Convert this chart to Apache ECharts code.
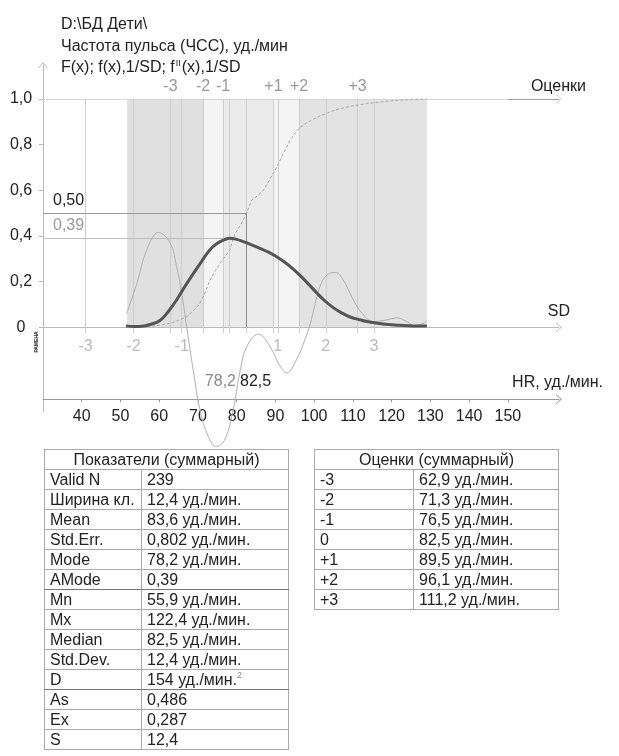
<!DOCTYPE html>
<html><head><meta charset="utf-8">
<script src="https://cdn.jsdelivr.net/npm/echarts@6/dist/echarts.min.js"></script>
<style>
html,body{margin:0;padding:0;background:#fff;}
#wrap{position:relative;width:619px;height:756px;overflow:hidden;background:#fff;}
#chart{position:absolute;left:0;top:0;width:619px;height:756px;}
table.t{position:absolute;border-collapse:collapse;table-layout:fixed;font-family:"Liberation Sans",Arial,sans-serif;font-size:16px;color:#222;}
table.t td{border:1px solid #aaa;padding:0 0 0 5px;height:19px;line-height:19px;white-space:nowrap;overflow:hidden;}
table.t td.h{text-align:center;padding:0;}
table.t tr.dk td{border-bottom:1px solid #777;}
table.t sup{font-size:9px;color:#888;vertical-align:top;line-height:10px;}
</style></head>
<body><div id="wrap"><div id="chart"></div></div>
<script>
// ---------- data ----------
const titleLines = ['D:\\БД Дети\\', 'Частота пульса (ЧСС), уд./мин'];
const hrTicks = [40,50,60,70,80,90,100,110,120,130,140,150];
const yTicks = [0,0.2,0.4,0.6,0.8,1.0];
const sdTicks = [-3,-2,-1,0,1,2,3];
const estLabels = ['-3','-2','-1','0','+1','+2','+3'];
const estValues = [62.9,71.3,76.5,82.5,89.5,96.1,111.2];
const bandEdges = [51.7,71.3,76.5,89.5,96.1,129.1];
const bandColors = ['#e0e0e0','#f4f4f4','#ebebeb','#f4f4f4','#e3e3e3'];
const modeHR = 78.2, modeA = 0.39, medianHR = 82.5, medianF = 0.50, sdHR = 12.4;
// F(x)
const cdfData = [[51.7,0.0],[54.5,0.001],[57.6,0.004],[60.2,0.009],[62.8,0.017],[65.0,0.03],[67.1,0.046],[69.0,0.075],[70.5,0.105],[71.8,0.15],[73.1,0.207],[74.4,0.245],[75.7,0.28],[77.0,0.31],[78.3,0.34],[79.1,0.39],[79.6,0.41],[80.7,0.44],[81.7,0.47],[82.5,0.50],[83.9,0.557],[85.3,0.575],[86.9,0.60],[88.6,0.65],[90.3,0.70],[92.0,0.76],[93.8,0.82],[95.0,0.85],[96.4,0.877],[98.5,0.9],[100.7,0.92],[103.5,0.94],[106.7,0.958],[110.0,0.97],[113.6,0.98],[118.0,0.989],[122.2,0.995],[126.0,0.998],[129.1,1.0]];
// f(x)
const densityData = [[51.4,0.006],[53.5,0.003],[55.5,0.004],[57.6,0.012],[60.2,0.03],[62.3,0.068],[64.5,0.12],[66.6,0.178],[68.8,0.235],[71.0,0.29],[73.1,0.34],[75.0,0.368],[76.6,0.382],[78.3,0.39],[80.0,0.385],[81.7,0.375],[84.0,0.36],[86.0,0.346],[88.2,0.329],[90.3,0.309],[92.5,0.284],[94.6,0.255],[96.4,0.226],[98.6,0.188],[100.7,0.15],[102.8,0.115],[105.0,0.085],[107.2,0.062],[109.3,0.045],[111.5,0.034],[113.6,0.025],[117.8,0.014],[122.2,0.009],[125.5,0.006],[129.1,0.006]];
// f''(x)
const d2Data = [[51.6,0.06],[54.2,0.19],[56.8,0.34],[59.8,0.415],[62.8,0.37],[64.5,0.265],[65.8,0.15],[67.1,0.0],[68.8,-0.19],[70.5,-0.36],[72.7,-0.48],[74.8,-0.523],[77.0,-0.49],[79.1,-0.36],[80.9,-0.19],[82.6,-0.085],[85.6,-0.03],[88.6,-0.085],[91.2,-0.17],[92.9,-0.2],[95.5,-0.14],[97.6,-0.055],[98.9,0.01],[101.5,0.178],[103.3,0.229],[105.4,0.24],[107.5,0.207],[110.1,0.12],[112.7,0.054],[115.3,0.025],[118.7,0.032],[121.3,0.041],[123.9,0.025],[126.0,0.006],[128.1,0.017],[129.1,0.027]];
const statsRows = [['Valid N','239'],['Ширина кл.','12,4 уд./мин.'],['Mean','83,6 уд./мин.'],['Std.Err.','0,802 уд./мин.'],['Mode','78,2 уд./мин.'],['AMode','0,39'],['Mn','55,9 уд./мин.'],['Mx','122,4 уд./мин.'],['Median','82,5 уд./мин.'],['Std.Dev.','12,4 уд./мин.'],['D','154 уд./мин.<sup>2</sup>'],['As','0,486'],['Ex','0,287'],['S','12,4']];
const estRows = [['-3','62,9 уд./мин.'],['-2','71,3 уд./мин.'],['-1','76,5 уд./мин.'],['0','82,5 уд./мин.'],['+1','89,5 уд./мин.'],['+2','96,1 уд./мин.'],['+3','111,2 уд./мин.']];

// ---------- tables ----------
function makeTable(title, rows, left, top, w, c1, darkAfter){
  let h = '<table class="t" style="left:'+left+'px;top:'+top+'px;width:'+w+'px"><colgroup><col style="width:'+c1+'px"><col></colgroup>';
  h += '<tr><td class="h" colspan="2">'+title+'</td></tr>';
  rows.forEach(r=>{ h += '<tr'+(darkAfter.indexOf(r[0])>=0?' class="dk"':'')+'><td>'+r[0]+'</td><td>'+r[1]+'</td></tr>'; });
  return h + '</table>';
}
document.getElementById('wrap').insertAdjacentHTML('beforeend',
  makeTable('Показатели (суммарный)', statsRows, 44, 449, 245, 97, ['AMode','D']) +
  makeTable('Оценки (суммарный)', estRows, 314, 449, 245, 99, []));

// ---------- chart ----------
const FF = '"Liberation Sans", Arial, sans-serif';
const hrMin = 30, hrMax = 163.2, yMin = -0.37, yMax = 1.149;
const gridBox = {left:43, right:60, top:65, bottom:344.3};
const gridH = 756 - gridBox.top - gridBox.bottom;
const zeroOffset = -(gridH * (0 - yMin) / (yMax - yMin));   // bring an axis up to y = 0
const oneOffset = -(gridH * (yMax - 1) / (yMax - yMin));    // bring a top axis down to y = 1
const chev = 'path://M0,6 L5,0 L10,6 L9,6 L5,1.3 L1,6 Z';
const chart = echarts.init(document.getElementById('chart'), null, {renderer:'canvas'});

const bandAreas = [];
for (let i=0;i<bandColors.length;i++){
  bandAreas.push([{xAxis:bandEdges[i], yAxis:0, itemStyle:{color:bandColors[i]}},{xAxis:bandEdges[i+1], yAxis:1}]);
}
const lightLine = {color:'#cdcdcd', width:1, type:'solid'};
const estLines = estValues.map(v=>[{coord:[v,-0.025], lineStyle:lightLine},{coord:[v,1]}]);
const sdLines = sdTicks.map(v=>[{coord:[v,-0.025], lineStyle:lightLine},{coord:[v,1]}]);
const refLines = [
  [{coord:[hrMin,medianF], lineStyle:{color:'#9a9a9a',width:1,type:'solid'}},{coord:[medianHR,medianF]}],
  [{coord:[medianHR,medianF], lineStyle:{color:'#8a8a8a',width:1,type:'solid'}},{coord:[medianHR,0]}],
  [{coord:[hrMin,modeA], lineStyle:{color:'#bdbdbd',width:1,type:'solid'}},{coord:[modeHR,modeA]}],
  [{coord:[150,1], lineStyle:{color:'#a0a0a0',width:1,type:'solid'}},{coord:[hrMax,1]}]
];

function txt(text, x, y, o){
  o = o || {};
  return {type:'text', x:x, y:y, z:50, silent:true, style:Object.assign({text:text, font:(o.size||16)+'px '+FF, fill:o.color||'#222', textAlign:o.align||'left', textVerticalAlign:'middle', align:o.align||'left', verticalAlign:'middle'}, o.extra||{})};
}
const mlBase = {silent:true, symbol:'none', label:{show:false}, lineStyle:{type:'solid'}};

const option = {
  animation:false,
  backgroundColor:'#fff',
  grid:[Object.assign({},gridBox), Object.assign({},gridBox), Object.assign({},gridBox)],
  xAxis:[
    {type:'value', gridIndex:0, min:hrMin, max:hrMax, position:'bottom', offset:-12.4,
     axisLine:{show:true, onZero:false, lineStyle:{color:'#999',width:1}, symbol:['none',chev], symbolSize:[10,6]},
     axisTick:{show:true, customValues:hrTicks, length:3, lineStyle:{color:'#999'}},
     axisLabel:{customValues:hrTicks, fontSize:16, fontFamily:FF, color:'#222', margin:9},
     splitLine:{show:false}},
    {type:'value', gridIndex:1, min:(hrMin-modeHR)/sdHR, max:(hrMax-modeHR)/sdHR, position:'bottom', offset:zeroOffset,
     axisLine:{show:true, onZero:false, lineStyle:{color:'#bbb',width:1}, symbol:['none',chev], symbolSize:[10,6]},
     axisTick:{show:false},
     axisLabel:{customValues:sdTicks.filter(v=>v!==0), fontSize:16, fontFamily:FF, color:'#bbb', margin:11},
     splitLine:{show:false}},
    {type:'value', gridIndex:2, min:hrMin, max:hrMax, position:'top', offset:oneOffset,
     axisLine:{show:true, onZero:false, lineStyle:{color:'#d6d6d6',width:1}, symbol:['none',chev], symbolSize:[10,6]},
     axisTick:{show:false},
     axisLabel:{customValues:estValues.filter((v,i)=>estLabels[i]!=='0'), formatter:v=>estLabels[estValues.indexOf(v)], fontSize:16, fontFamily:FF, color:'#999', margin:4},
     splitLine:{show:false}}
  ],
  yAxis:[
    {type:'value', gridIndex:0, min:yMin, max:yMax,
     axisLine:{show:true, onZero:false, lineStyle:{color:'#bbb',width:1}, symbol:['none',chev], symbolSize:[10,6]},
     axisTick:{show:true, customValues:yTicks, length:4, lineStyle:{color:'#bbb'}},
     axisLabel:{customValues:yTicks, formatter:v=>v===0?'0':v.toFixed(1).replace('.',','), fontSize:16, fontFamily:FF, color:'#222', margin:22, align:'center'},
     splitLine:{show:false}},
    {type:'value', gridIndex:1, min:yMin, max:yMax, show:false},
    {type:'value', gridIndex:2, min:yMin, max:yMax, show:false}
  ],
  series:[
    {type:'line', xAxisIndex:0, yAxisIndex:0, data:[], z:1, silent:true,
     markArea:{silent:true, z:0, data:bandAreas}},
    {type:'line', xAxisIndex:2, yAxisIndex:2, data:[], z:1, silent:true,
     markLine:Object.assign({z:1, data:estLines}, mlBase)},
    {type:'line', xAxisIndex:1, yAxisIndex:1, data:[], z:1, silent:true,
     markLine:Object.assign({z:1, data:sdLines}, mlBase)},
    {type:'line', xAxisIndex:0, yAxisIndex:0, data:[], z:1, silent:true,
     markLine:Object.assign({z:2, data:refLines}, mlBase)},
    {name:'F(x)', type:'line', xAxisIndex:0, yAxisIndex:0, data:cdfData, showSymbol:false, z:3, clip:false,
     lineStyle:{color:'#a8a8a8', width:1, type:[3,2]}},
    {name:"f''(x)", type:'line', xAxisIndex:0, yAxisIndex:0, data:d2Data, showSymbol:false, smooth:0.4, z:3, clip:false,
     lineStyle:{color:'#b0b0b0', width:1}},
    {name:'f(x)', type:'line', xAxisIndex:0, yAxisIndex:0, data:densityData, showSymbol:false, smooth:0.4, z:4, clip:false,
     lineStyle:{color:'#555', width:3}}
  ],
  graphic:[
    txt(titleLines[0], 61, 25),
    txt(titleLines[1], 61, 47),
    {type:'text', x:61, y:68, z:50, silent:true, style:{text:"{a|F(x); f(x),1/SD; f}{s|II}{a|(x),1/SD}", textVerticalAlign:'middle', verticalAlign:'middle',
      rich:{a:{fontSize:16, fontFamily:FF, color:'#222', fill:'#222'}, s:{fontSize:9, fontFamily:FF, color:'#222', fill:'#222', verticalAlign:'top', padding:[0,1,8,1]}}}},
    txt('Оценки', 586, 87, {align:'right'}),
    txt('SD', 570, 312, {align:'right'}),
    txt('HR, уд./мин.', 603, 383, {align:'right'}),
    txt('0,50', 53, 201),
    txt('0,39', 53, 226, {color:'#999'}),
    txt('78,2', 236, 382, {align:'right', color:'#888'}),
    txt('82,5', 240, 382),
    {type:'text', x:37, y:342, z:50, rotation:Math.PI/2, silent:true, style:{text:'РАМЕНА', font:'bold 5px '+FF, fill:'#222', textAlign:'center', align:'center', textVerticalAlign:'middle', verticalAlign:'middle'}}
  ]
};
chart.setOption(option);
</script></body></html>
